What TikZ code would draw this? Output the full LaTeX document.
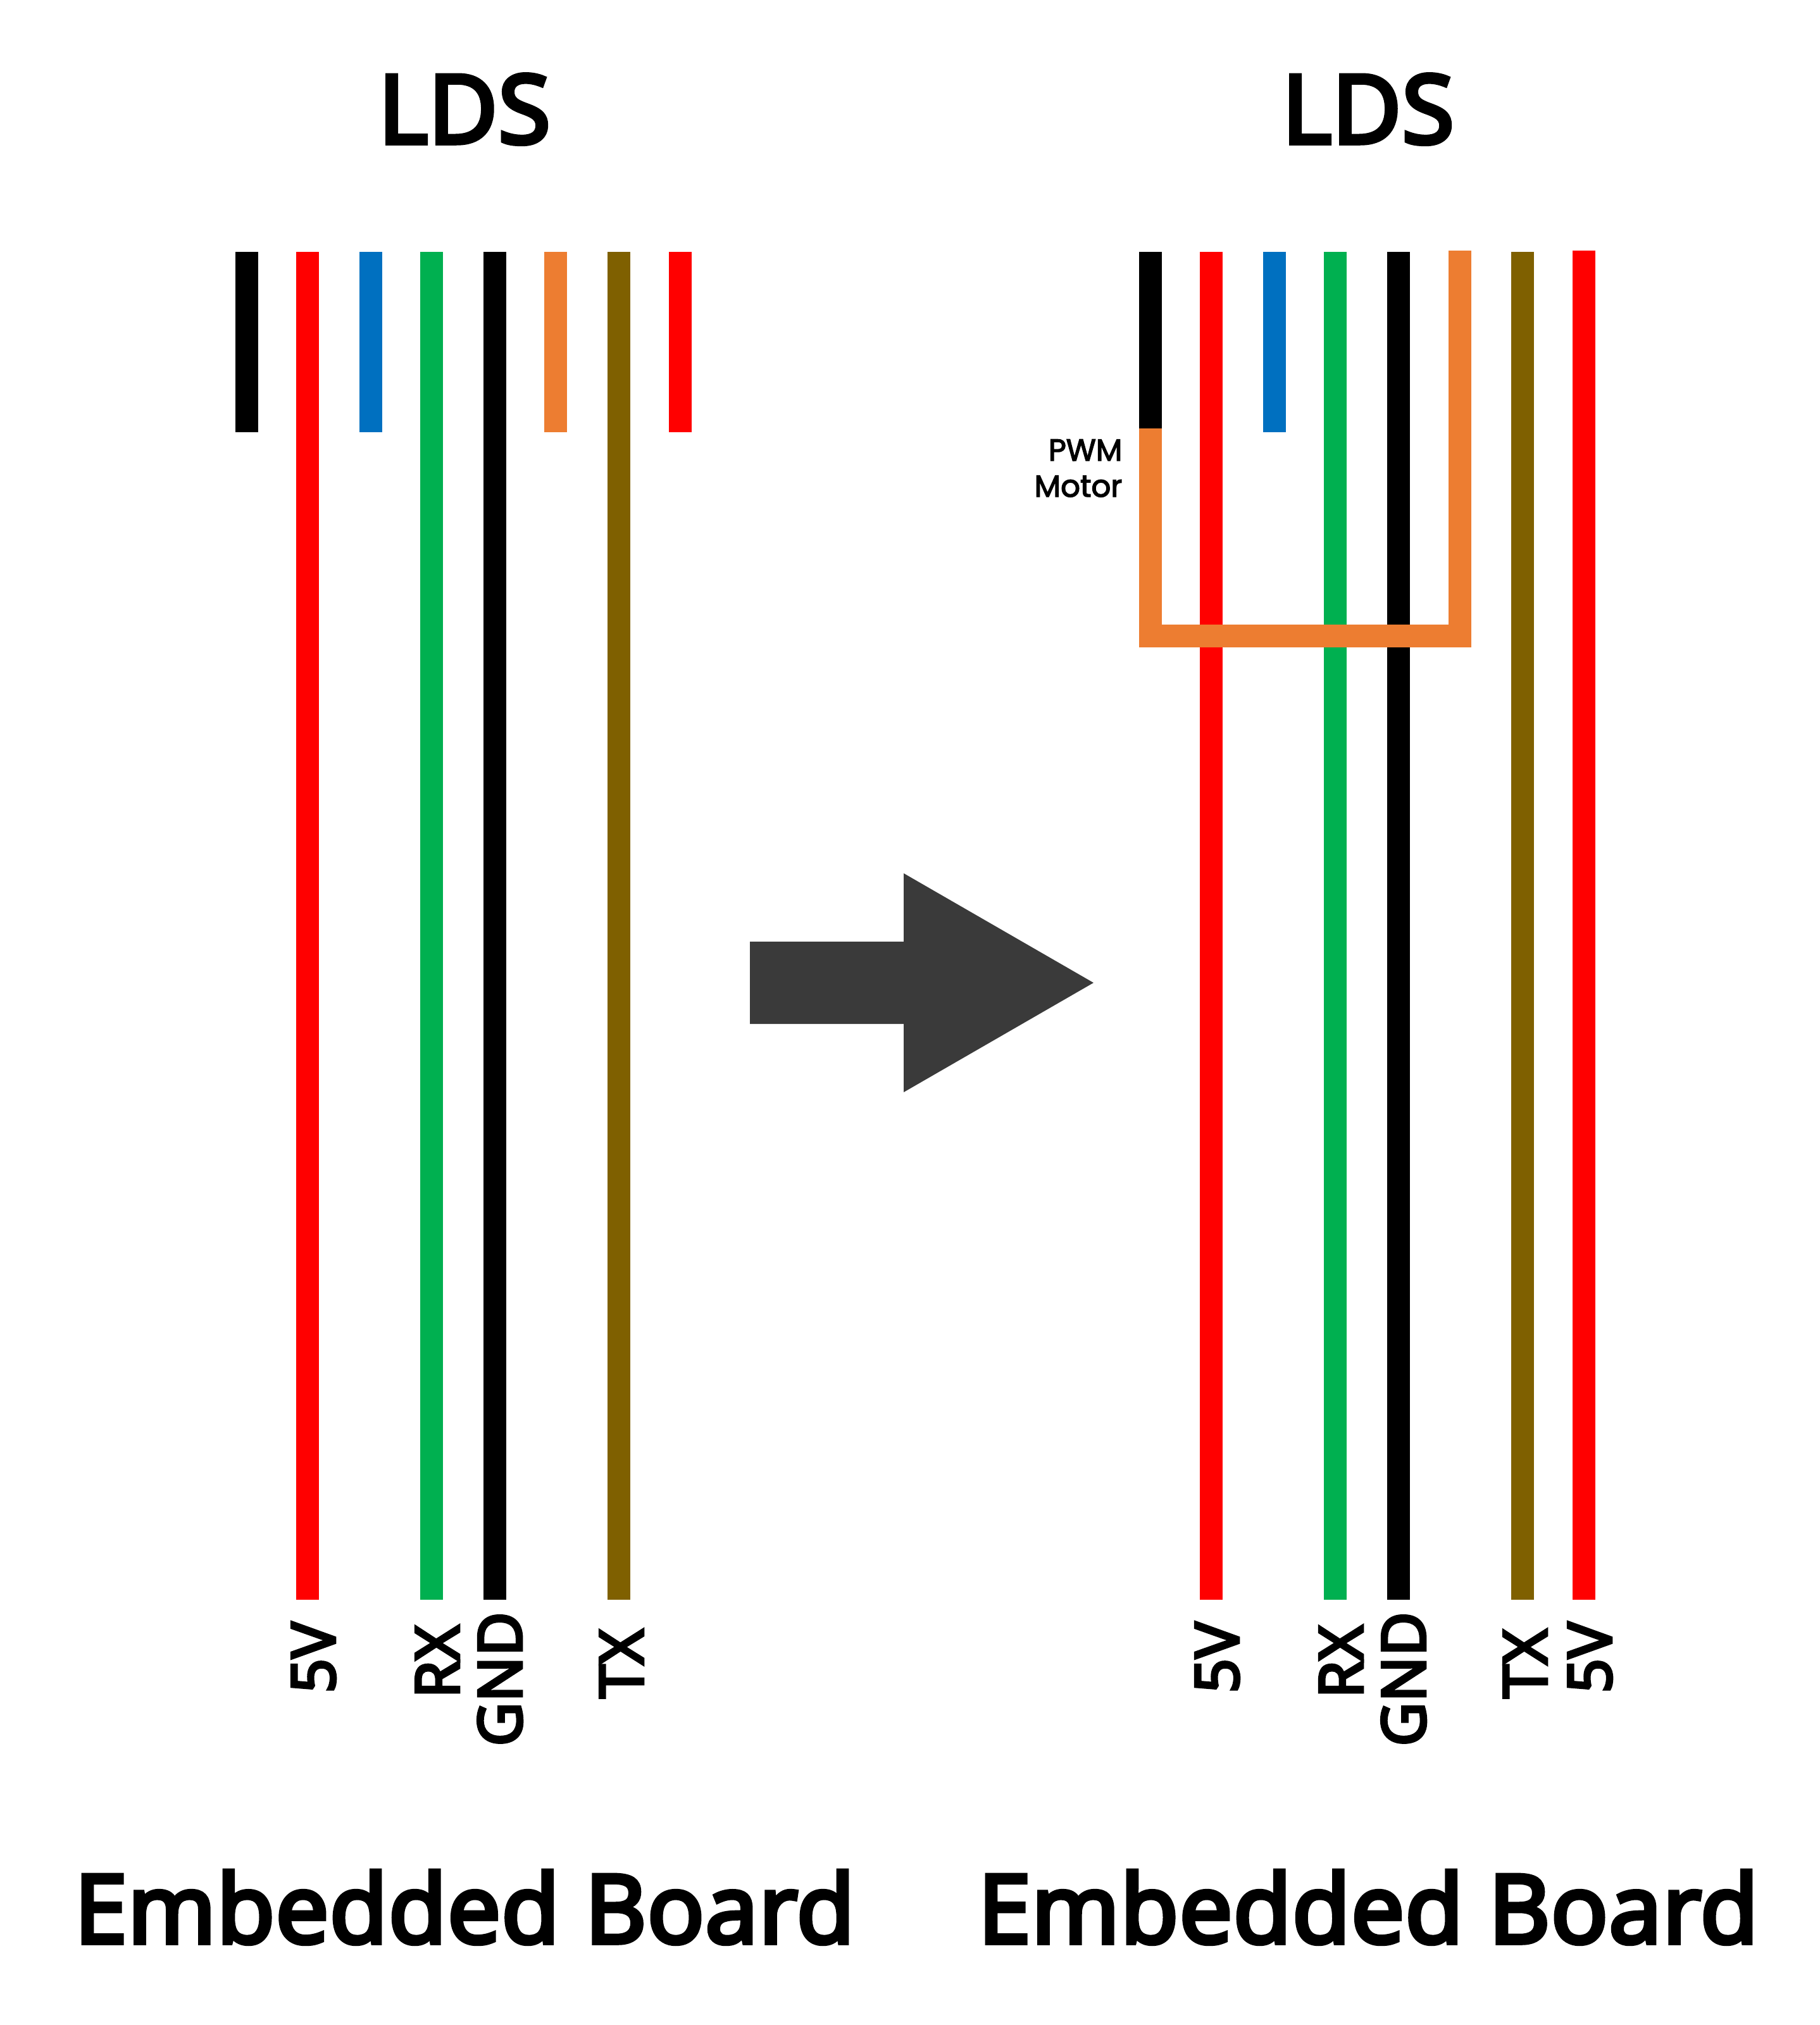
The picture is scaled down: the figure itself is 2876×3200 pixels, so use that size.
\documentclass[tikz,border=0pt]{standalone}
\usepackage{fontspec}
\setmainfont{Open Sans}
\newfontfamily\headfont{Open Sans}[BoldFont={Open Sans}, BoldFeatures={FakeBold=5, LetterSpace=1}]
\newfontfamily\pwmfont{Poppins}[BoldFont={Poppins}, BoldFeatures={FakeBold=3}]
\definecolor{wirered}{HTML}{FF0000}
\definecolor{wiregreen}{HTML}{00B050}
\definecolor{wireblue}{HTML}{0070C0}
\definecolor{wireorange}{HTML}{ED7D31}
\definecolor{wirebrown}{HTML}{7F6000}
\definecolor{arrowgrey}{HTML}{3A3A3A}
\tikzset{
	wire/.style={line width=0.36cm},
	title/.style={font=\headfont\bfseries\fontsize{42.5}{50}\selectfont, anchor=base, inner sep=0pt},
	pin/.style={font=\headfont\bfseries\fontsize{27}{30}\selectfont, rotate=90, anchor=base west, inner sep=0pt},
	note/.style={font=\pwmfont\bfseries\fontsize{13.7}{15}\selectfont, anchor=base east, inner sep=0pt}
}
\begin{document}
\begin{tikzpicture}[x=0.01cm, y=-0.01cm]
	\useasboundingbox (0,0) rectangle (2876,3200);
	% left side
	\node[title] (ldsa) at (734,226) {LDS};
	\coordinate (a1t) at (390,398); \coordinate (a1b) at (390,683);
	\coordinate (a2t) at (486,398); \coordinate (a2b) at (486,2528);
	\coordinate (a3t) at (586,398); \coordinate (a3b) at (586,683);
	\coordinate (a4t) at (682,398); \coordinate (a4b) at (682,2528);
	\coordinate (a5t) at (782,398); \coordinate (a5b) at (782,2528);
	\coordinate (a6t) at (878,398); \coordinate (a6b) at (878,683);
	\coordinate (a7t) at (978,398); \coordinate (a7b) at (978,2528);
	\coordinate (a8t) at (1075,398); \coordinate (a8b) at (1075,683);
	\draw[wire, black] (a1t) -- (a1b);
	\draw[wire, wirered] (a2t) -- (a2b);
	\draw[wire, wireblue] (a3t) -- (a3b);
	\draw[wire, wiregreen] (a4t) -- (a4b);
	\draw[wire, black] (a5t) -- (a5b);
	\draw[wire, wireorange] (a6t) -- (a6b);
	\draw[wire, wirebrown] (a7t) -- (a7b);
	\draw[wire, wirered] (a8t) -- (a8b);
	\node[pin] (a5v) at (529,2676) {5V};
	\node[pin] (arx) at (725,2684) {RX};
	\node[pin] (agnd) at (824,2760) {GND};
	\node[pin] (atx) at (1016,2684) {TX};
	\node[title] (boarda) at (734,3070) {Embedded Board};
	% arrow in the middle
	\fill[arrowgrey] (1185,1488) -- (1428,1488) -- (1428,1380) -- (1728,1553) -- (1428,1726) -- (1428,1618) -- (1185,1618) -- cycle;
	% right side
	\node[title] (ldsb) at (2162,226) {LDS};
	\coordinate (b1t) at (1818,398); \coordinate (b1b) at (1818,677);
	\coordinate (b2t) at (1914,398); \coordinate (b2b) at (1914,2528);
	\coordinate (b3t) at (2014,398); \coordinate (b3b) at (2014,683);
	\coordinate (b4t) at (2110,398); \coordinate (b4b) at (2110,2528);
	\coordinate (b5t) at (2210,398); \coordinate (b5b) at (2210,2528);
	\coordinate (b6t) at (2306.5,396); \coordinate (b6b) at (2306.5,1005);
	\coordinate (b7t) at (2406,398); \coordinate (b7b) at (2406,2528);
	\coordinate (b8t) at (2503,396); \coordinate (b8b) at (2503,2528);
	\draw[wire, black] (b1t) -- (b1b);
	\draw[wire, wirered] (b2t) -- (b2b);
	\draw[wire, wireblue] (b3t) -- (b3b);
	\draw[wire, wiregreen] (b4t) -- (b4b);
	\draw[wire, black] (b5t) -- (b5b);
	\draw[wire, wirebrown] (b7t) -- (b7b);
	\draw[wire, wirered] (b8t) -- (b8b);
	\draw[wire, wireorange] (b1b) -- (b1b |- b6b) -- (b6b) -- (b6t);
	\node[note] (pwm) at (1774,728) {PWM};
	\node[note] (motor) at (1774,785) {Motor};
	\node[pin] (b5v) at (1957,2676) {5V};
	\node[pin] (brx) at (2153,2684) {RX};
	\node[pin] (bgnd) at (2252,2760) {GND};
	\node[pin] (btx) at (2444,2684) {TX};
	\node[pin] (b5vb) at (2546,2676) {5V};
	\node[title] (boardb) at (2162,3070) {Embedded Board};
\end{tikzpicture}
\end{document}
